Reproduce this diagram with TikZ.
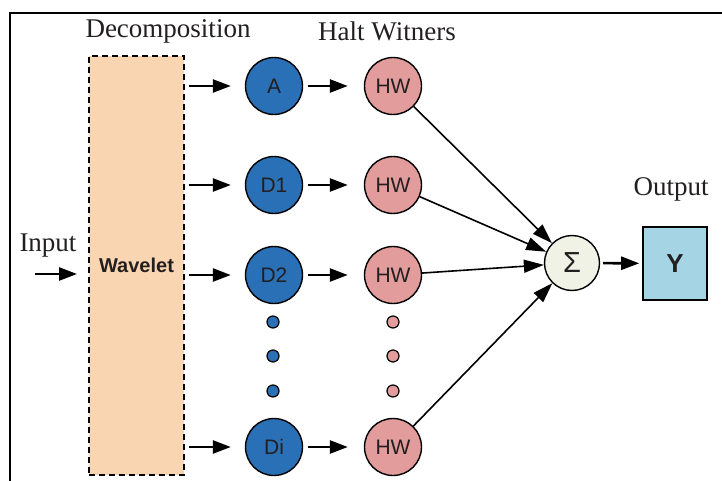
\documentclass[tikz,border=0pt]{standalone}
\usepackage{fontspec}
\setmainfont{Liberation Serif}
\setsansfont{Liberation Sans}
\usetikzlibrary{arrows.meta}
\definecolor{peach}{HTML}{FAD5B1}
\definecolor{cblue}{HTML}{2A70B6}
\definecolor{cpink}{HTML}{E19C9B}
\definecolor{csig}{HTML}{EFF2E5}
\definecolor{cy}{HTML}{A5D5E5}
\definecolor{txt}{HTML}{231F20}
\tikzset{
  lbl/.style={font=\fontsize{27}{30}\selectfont, text=txt, inner sep=0pt},
  bnode/.style={circle, draw=black, line width=1.4pt, fill=cblue, minimum size=57pt, inner sep=0pt, font=\sffamily\fontsize{21}{22}\selectfont, text=txt},
  pnode/.style={circle, draw=black, line width=1.4pt, fill=cpink, minimum size=57pt, inner sep=0pt, font=\sffamily\fontsize{21}{22}\selectfont, text=txt},
  bdot/.style={circle, draw=black, line width=1.2pt, fill=cblue, minimum size=12pt, inner sep=0pt},
  pdot/.style={circle, draw=black, line width=1.2pt, fill=cpink, minimum size=12pt, inner sep=0pt},
  arr/.style={line width=2.6pt, -{Triangle[length=18pt,width=13pt]}},
  conn/.style={line width=1.6pt, -{Triangle[length=20pt,width=13pt]}},
}
\begin{document}
\begin{tikzpicture}[x=1pt,y=-1pt]
\useasboundingbox (0,0) rectangle (722,481);
% frame
\draw[line width=1.6pt] (10,481) -- (10,13) -- (722,13);
% labels
\node[lbl] (tdec) at (168,31) {Decomposition};
\node[lbl] (thw) at (387,31) {Halt Witners};
\node[lbl] (tin) at (48,246) {Input};
\node[lbl] (tout) at (671,189) {Output};
% wavelet box
\node[draw=black, dashed, dash pattern=on 6pt off 4pt, line width=1.5pt, fill=peach, minimum width=95pt, minimum height=419pt, inner sep=0pt, font=\sffamily\bfseries\fontsize{20}{22}\selectfont, text=txt] (wave) at (136.5,265.5) {Wavelet};
% circles
\node[bnode] (A) at (274,86) {A};
\node[bnode] (D1) at (274,185) {D1};
\node[bnode] (D2) at (274,275) {D2};
\node[bnode] (Di) at (274,447) {Di};
\node[pnode] (H1) at (393,86) {HW};
\node[pnode] (H2) at (393,185) {HW};
\node[pnode] (H3) at (393,275) {HW};
\node[pnode] (H4) at (393,447) {HW};
\node[bdot] (b1) at (273,322) {};
\node[bdot] (b2) at (273,356) {};
\node[bdot] (b3) at (273,391) {};
\node[pdot] (p1) at (393,322) {};
\node[pdot] (p2) at (393,356) {};
\node[pdot] (p3) at (393,391) {};
% sum and output
\node[circle, draw=black, line width=1.4pt, fill=csig, minimum size=55pt, inner sep=0pt, font=\sffamily\fontsize{29}{30}\selectfont, text=txt] (sig) at (572,263) {Σ};
\node[draw=black, line width=1.6pt, fill=cy, minimum width=64pt, minimum height=73pt, inner sep=0pt, font=\sffamily\bfseries\fontsize{26}{27}\selectfont, text=txt] (Y) at (675,263.5) {Y};
% input arrow
\coordinate (inS) at (35,274);
\coordinate (inE) at (77,274);
\draw[arr] (inS) -- (inE);
% box to circles
\foreach \n in {A,D1,D2,Di}{
  \draw[arr, shorten <=4pt, shorten >=14pt] (wave.east |- \n) -- (\n);
}
\foreach \a/\b in {A/H1,D1/H2,D2/H3,Di/H4}{
  \draw[arr, shorten <=5pt, shorten >=16pt] (\a) -- (\b);
}
% HW to sigma
\foreach \h in {H1,H2,H3,H4}{
  \draw[conn] (\h) -- (sig);
}
\draw[arr, shorten <=3pt, shorten >=3pt] (sig) -- (Y);
\end{tikzpicture}
\end{document}
